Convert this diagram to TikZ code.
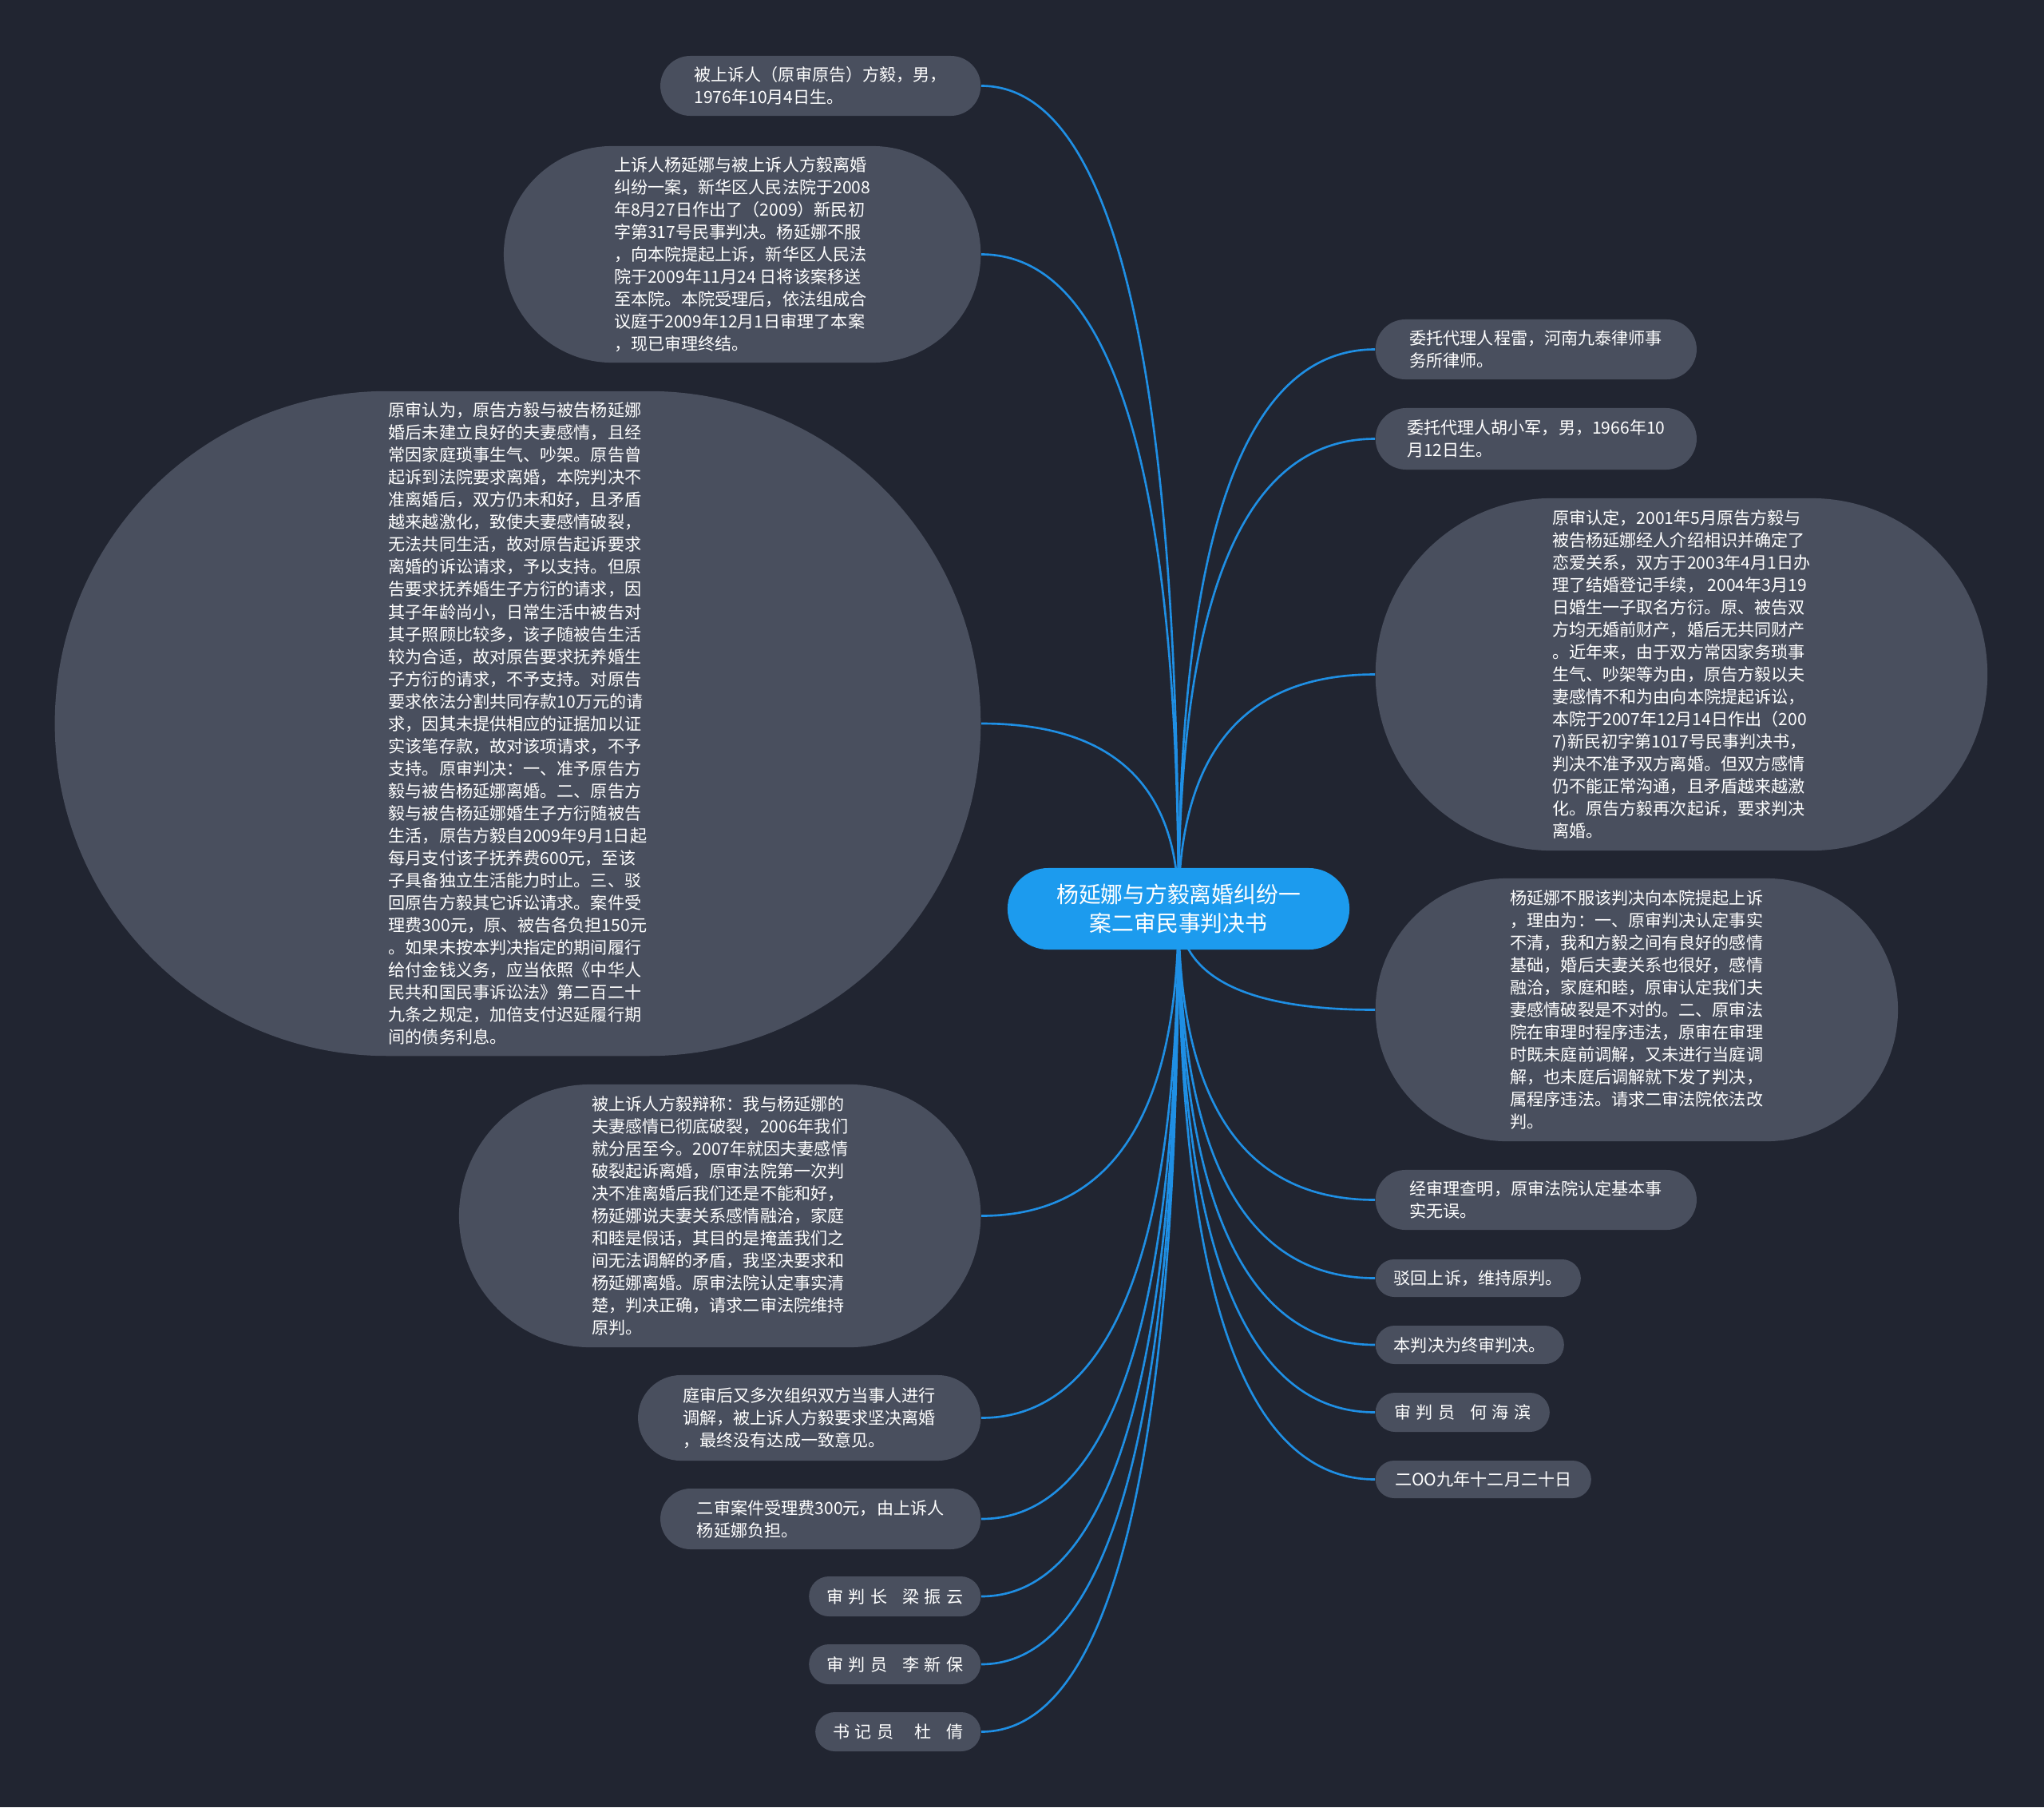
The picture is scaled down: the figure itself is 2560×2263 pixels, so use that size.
\documentclass[tikz,border=0pt]{standalone}
\usepackage{fontspec}
\setmainfont{Noto Sans CJK SC}
\usetikzlibrary{shapes.misc, calc}
\definecolor{bgdark}{HTML}{212531}
\definecolor{leafgray}{HTML}{494F5E}
\definecolor{rootblue}{HTML}{1C9BEE}
\definecolor{linkblue}{HTML}{1F8FE4}
\newcommand{\bodyfont}{\fontsize{6pt}{7.97pt}\selectfont}
\newcommand{\rootfont}{\fontsize{7.9pt}{10.2pt}\selectfont}

\begin{document}
\begin{tikzpicture}[x=0.01cm, y=-0.01cm]
      \tikzset{leaf/.style={rounded rectangle, fill=leafgray, text=white,
          font=\bodyfont, align=left, inner sep=0pt},
        namebox/.style={leaf, font={\bodyfont\spaceskip=1.8pt\relax}},
        branch/.style={draw=linkblue, line width=0.75pt,
          to path={.. controls ($(\tikztostart)!0.667!(\tikztostart |- \tikztotarget)$)
            and ($(\tikztotarget)!0.667!(\tikztostart |- \tikztotarget)$) .. (\tikztotarget)}}
      }
      \fill [bgdark] (0,0) rectangle (2560,2263);
      \coordinate (hub) at (1476,1138);

      % left side
      \node [leaf, anchor=east, minimum width=4.01cm, minimum height=0.75cm] (appellee) at (1229,107.5)
        {被上诉人（原审原告）方毅，男，\\1976年10月4日生。};
      \node [leaf, anchor=east, minimum width=5.97cm, minimum height=2.71cm] (filing) at (1229,318.5)
        {上诉人杨延娜与被上诉人方毅离婚\\纠纷一案，新华区人民法院于2008\\年8月27日作出了（2009）新民初\\字第317号民事判决。杨延娜不服\\，向本院提起上诉，新华区人民法\\院于2009年11月24 日将该案移送\\至本院。本院受理后，依法组成合\\议庭于2009年12月1日审理了本案\\，现已审理终结。};
      \node [leaf, anchor=east, minimum width=11.59cm, minimum height=8.32cm] (ruling) at (1229,906)
        {原审认为，原告方毅与被告杨延娜\\婚后未建立良好的夫妻感情，且经\\常因家庭琐事生气、吵架。原告曾\\起诉到法院要求离婚，本院判决不\\准离婚后，双方仍未和好，且矛盾\\越来越激化，致使夫妻感情破裂，\\无法共同生活，故对原告起诉要求\\离婚的诉讼请求，予以支持。但原\\告要求抚养婚生子方衍的请求，因\\其子年龄尚小，日常生活中被告对\\其子照顾比较多，该子随被告生活\\较为合适，故对原告要求抚养婚生\\子方衍的请求，不予支持。对原告\\要求依法分割共同存款10万元的请\\求，因其未提供相应的证据加以证\\实该笔存款，故对该项请求，不予\\支持。原审判决：一、准予原告方\\毅与被告杨延娜离婚。二、原告方\\毅与被告杨延娜婚生子方衍随被告\\生活，原告方毅自2009年9月1日起\\每月支付该子抚养费600元，至该\\子具备独立生活能力时止。三、驳\\回原告方毅其它诉讼请求。案件受\\理费300元，原、被告各负担150元\\。如果未按本判决指定的期间履行\\给付金钱义务，应当依照《中华人\\民共和国民事诉讼法》第二百二十\\九条之规定，加倍支付迟延履行期\\间的债务利息。};
      \node [leaf, anchor=east, minimum width=6.53cm, minimum height=3.29cm] (defence) at (1229,1522.5)
        {被上诉人方毅辩称：我与杨延娜的\\夫妻感情已彻底破裂，2006年我们\\就分居至今。2007年就因夫妻感情\\破裂起诉离婚，原审法院第一次判\\决不准离婚后我们还是不能和好，\\杨延娜说夫妻关系感情融洽，家庭\\和睦是假话，其目的是掩盖我们之\\间无法调解的矛盾，我坚决要求和\\杨延娜离婚。原审法院认定事实清\\楚，判决正确，请求二审法院维持\\原判。};
      \node [leaf, anchor=east, minimum width=4.29cm, minimum height=1.07cm] (mediation) at (1229,1775.5)
        {庭审后又多次组织双方当事人进行\\调解，被上诉人方毅要求坚决离婚\\，最终没有达成一致意见。};
      \node [leaf, anchor=east, minimum width=4.01cm, minimum height=0.76cm] (fee) at (1229,1902)
        {二审案件受理费300元，由上诉人\\杨延娜负担。};
      \node [namebox, anchor=east, minimum width=2.15cm, minimum height=0.50cm] (chief) at (1229,1999)
        {审 判 长\hspace{5.4pt}梁 振 云};
      \node [namebox, anchor=east, minimum width=2.15cm, minimum height=0.50cm] (judgeA) at (1229,2084)
        {审 判 员\hspace{5.4pt}李 新 保};
      \node [namebox, anchor=east, minimum width=2.07cm, minimum height=0.49cm] (clerk) at (1229,2168.5)
        {书 记 员\hspace{7.4pt}杜\hspace{5.4pt}倩};

      % right side
      \node [leaf, anchor=west, minimum width=4.02cm, minimum height=0.75cm] (agentA) at (1722,437.5)
        {委托代理人程雷，河南九泰律师事\\务所律师。};
      \node [leaf, anchor=west, minimum width=4.02cm, minimum height=0.77cm] (agentB) at (1722,549.5)
        {委托代理人胡小军，男，1966年10\\月12日生。};
      \node [leaf, anchor=west, minimum width=7.66cm, minimum height=4.41cm] (facts) at (1722,844.5)
        {原审认定，2001年5月原告方毅与\\被告杨延娜经人介绍相识并确定了\\恋爱关系，双方于2003年4月1日办\\理了结婚登记手续， 2004年3月19\\日婚生一子取名方衍。原、被告双\\方均无婚前财产，婚后无共同财产\\。近年来，由于双方常因家务琐事\\生气、吵架等为由，原告方毅以夫\\妻感情不和为由向本院提起诉讼，\\本院于2007年12月14日作出（200\\7)新民初字第1017号民事判决书，\\判决不准予双方离婚。但双方感情\\仍不能正常沟通，且矛盾越来越激\\化。原告方毅再次起诉，要求判决\\离婚。};
      \node [leaf, anchor=west, minimum width=6.54cm, minimum height=3.29cm] (grounds) at (1722,1264.5)
        {杨延娜不服该判决向本院提起上诉\\，理由为：一、原审判决认定事实\\不清，我和方毅之间有良好的感情\\基础，婚后夫妻关系也很好，感情\\融洽，家庭和睦，原审认定我们夫\\妻感情破裂是不对的。二、原审法\\院在审理时程序违法，原审在审理\\时既未庭前调解，又未进行当庭调\\解，也未庭后调解就下发了判决，\\属程序违法。请求二审法院依法改\\判。};
      \node [leaf, anchor=west, minimum width=4.02cm, minimum height=0.75cm] (review) at (1722,1502.5)
        {经审理查明，原审法院认定基本事\\实无误。};
      \node [leaf, anchor=west, minimum width=2.57cm, minimum height=0.47cm] (reject) at (1722,1600.5)
        {驳回上诉，维持原判。};
      \node [leaf, anchor=west, minimum width=2.36cm, minimum height=0.48cm] (final) at (1722,1684)
        {本判决为终审判决。};
      \node [namebox, anchor=west, minimum width=2.18cm, minimum height=0.49cm] (judgeB) at (1722,1768.5)
        {审 判 员\hspace{5.4pt}何 海 滨};
      \node [leaf, anchor=west, minimum width=2.70cm, minimum height=0.47cm] (date) at (1722,1852.5)
        {二OO九年十二月二十日};

      \foreach \n in {appellee, filing, ruling, defence, mediation, fee, chief, judgeA, clerk}
        \draw [branch] (hub) to (\n.east);
      \foreach \n in {agentA, agentB, facts, grounds, review, reject, final, judgeB, date}
        \draw [branch] (hub) to (\n.west);

      \node [rounded rectangle, fill=rootblue, text=white, font=\rootfont, align=center,
        inner sep=0pt, minimum width=4.28cm, minimum height=1.02cm] (case) at (hub)
        {杨延娜与方毅离婚纠纷一\\案二审民事判决书};
    \end{tikzpicture}
\end{document}
